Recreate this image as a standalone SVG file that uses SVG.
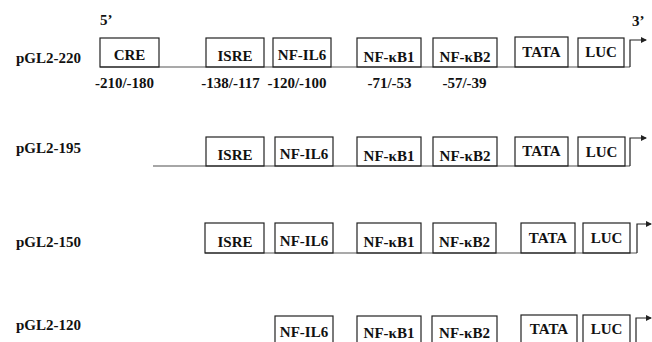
<svg xmlns="http://www.w3.org/2000/svg" width="652" height="342" viewBox="0 0 652 342">
<defs>
<style>
text{font-family:"Liberation Serif","Times New Roman",serif;font-weight:bold;font-size:15px;fill:#111}
.c{text-anchor:middle}
.box{fill:none;stroke:#222;stroke-width:1.2}
.ln{fill:none;stroke:#555;stroke-width:1.2}
.ln2{fill:none;stroke:#888;stroke-width:1.4}
.ar{fill:none;stroke:#222;stroke-width:1.2}
</style>
<marker id="ah" viewBox="0 0 6 6" refX="5" refY="3" markerWidth="6" markerHeight="6" markerUnits="userSpaceOnUse" orient="auto"><path d="M0,0 L6,3 L0,6 z" fill="#222"/></marker>
</defs>
<rect width="652" height="342" fill="#fff"/>
<text x="100" y="25">5’</text>
<text x="632" y="26">3’</text>
<g id="connectors">
<line class="ln" x1="100" y1="67" x2="630" y2="67"/>
<polyline class="ar" points="630,67 630,40 646,40" marker-end="url(#ah)"/>
<line class="ln2" x1="153" y1="166" x2="630" y2="166"/>
<polyline class="ar" points="630,166 630,138 646,138" marker-end="url(#ah)"/>
<line class="ln" x1="205" y1="253" x2="637" y2="253"/>
<polyline class="ar" points="637,253 637,224 651,224" marker-end="url(#ah)"/>
<polyline class="ar" points="636,345 636,318 651,318" marker-end="url(#ah)"/>
</g>
<g id="row1">
<text x="16" y="63">pGL2-220</text>
<g id="r1-cre"><rect class="box" x="100" y="38" width="59" height="29"/><text class="c" x="129.5" y="60">CRE</text></g>
<g id="r1-isre"><rect class="box" x="206" y="38" width="58" height="29"/><text class="c" x="235" y="61">ISRE</text></g>
<g id="r1-nfil6"><rect class="box" x="273" y="38" width="58" height="29"/><text class="c" x="302" y="60">NF-IL6</text></g>
<g id="r1-kb1"><rect class="box" x="357" y="38" width="64" height="29"/><text class="c" x="389" y="62">NF-κB1</text></g>
<g id="r1-kb2"><rect class="box" x="433" y="38" width="64" height="29"/><text class="c" x="465" y="62">NF-κB2</text></g>
<g id="r1-tata"><rect class="box" x="515" y="37" width="53" height="30"/><text class="c" x="541.5" y="57">TATA</text></g>
<g id="r1-luc"><rect class="box" x="578" y="38" width="46" height="29"/><text class="c" x="601" y="57">LUC</text></g>
<text class="c" x="124.5" y="88">-210/-180</text>
<text class="c" x="230.5" y="88">-138/-117</text>
<text class="c" x="297" y="88">-120/-100</text>
<text class="c" x="389.5" y="88">-71/-53</text>
<text class="c" x="464.5" y="88">-57/-39</text>
</g>
<g id="row2">
<text x="16" y="153">pGL2-195</text>
<g id="r2-isre"><rect class="box" x="206" y="137" width="58" height="29"/><text class="c" x="235" y="160">ISRE</text></g>
<g id="r2-nfil6"><rect class="box" x="275" y="137" width="58" height="29"/><text class="c" x="304" y="159">NF-IL6</text></g>
<g id="r2-kb1"><rect class="box" x="357" y="137" width="64" height="29"/><text class="c" x="389" y="161">NF-κB1</text></g>
<g id="r2-kb2"><rect class="box" x="433" y="137" width="64" height="29"/><text class="c" x="465" y="161">NF-κB2</text></g>
<g id="r2-tata"><rect class="box" x="515" y="137" width="53" height="29"/><text class="c" x="541.5" y="156">TATA</text></g>
<g id="r2-luc"><rect class="box" x="578" y="137" width="47" height="29"/><text class="c" x="601.5" y="157">LUC</text></g>
</g>
<g id="row3">
<text x="16" y="247">pGL2-150</text>
<g id="r3-isre"><rect class="box" x="205" y="223" width="59" height="30"/><text class="c" x="235" y="247">ISRE</text></g>
<g id="r3-nfil6"><rect class="box" x="275" y="223" width="58" height="30"/><text class="c" x="304" y="246">NF-IL6</text></g>
<g id="r3-kb1"><rect class="box" x="357" y="223" width="64" height="30"/><text class="c" x="389" y="247">NF-κB1</text></g>
<g id="r3-kb2"><rect class="box" x="433" y="223" width="63" height="30"/><text class="c" x="464.5" y="247">NF-κB2</text></g>
<g id="r3-tata"><rect class="box" x="521" y="223" width="54" height="30"/><text class="c" x="548" y="243">TATA</text></g>
<g id="r3-luc"><rect class="box" x="583" y="223" width="47" height="30"/><text class="c" x="606.5" y="243">LUC</text></g>
</g>
<g id="row4">
<text x="16" y="330">pGL2-120</text>
<g id="r4-nfil6"><rect class="box" x="275" y="316" width="58" height="30"/><text class="c" x="304" y="337">NF-IL6</text></g>
<g id="r4-kb1"><rect class="box" x="357" y="316" width="64" height="30"/><text class="c" x="389" y="338">NF-κB1</text></g>
<g id="r4-kb2"><rect class="box" x="432" y="316" width="65" height="30"/><text class="c" x="464.5" y="338">NF-κB2</text></g>
<g id="r4-tata"><rect class="box" x="521" y="315" width="56" height="31"/><text class="c" x="549" y="334">TATA</text></g>
<g id="r4-luc"><rect class="box" x="583" y="315" width="47" height="31"/><text class="c" x="606.5" y="334">LUC</text></g>
</g>
</svg>
